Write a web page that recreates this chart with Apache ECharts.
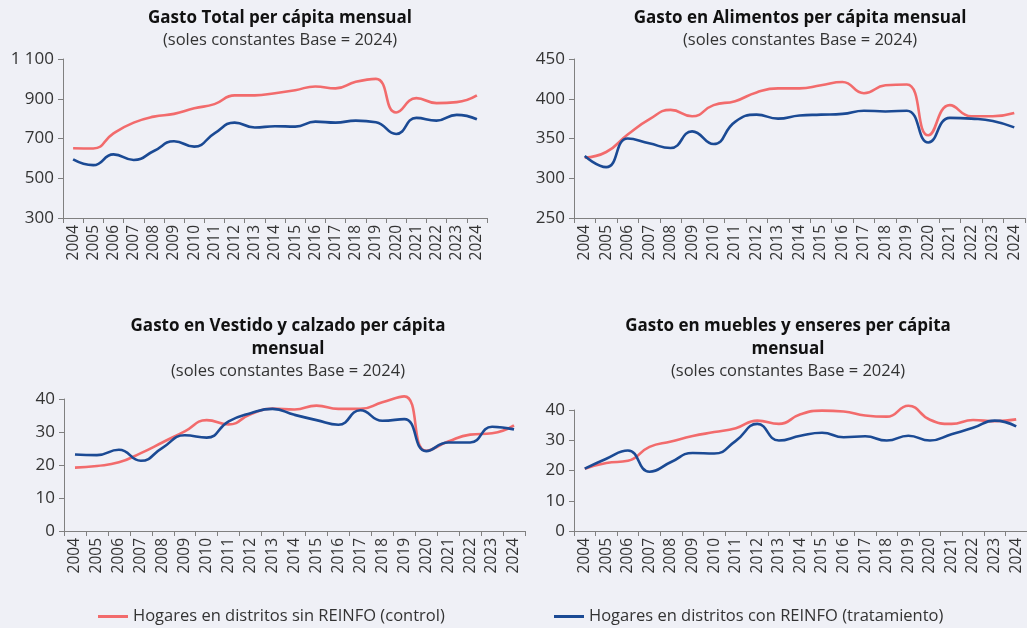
<!DOCTYPE html>
<html><head><meta charset="utf-8">
<script src="https://cdn.jsdelivr.net/npm/echarts@6/dist/echarts.min.js"></script>
<style>html,body{margin:0;padding:0;background:#eff0f6;}#c{width:1027px;height:628px;}</style>
</head><body><div id="c"></div>
<script>
const years = ['2004','2005','2006','2007','2008','2009','2010','2011','2012','2013','2014','2015','2016','2017','2018','2019','2020','2021','2022','2023','2024'];
const nameControl = 'Hogares en distritos sin REINFO (control)';
const nameTreat = 'Hogares en distritos con REINFO (tratamiento)';

const totalControl = [651,650,726,780,810,824,852,873,917,917,928,943,962,952,985,1000,831,903,878,883,917];
const totalTreat   = [595,566,620,592,637,686,659,726,780,755,762,760,785,780,790,782,723,804,790,819,797];

const alimControl = [326,333,355,374,386,378,392,397,408,413,413,417,421,407,417,418,354,392,378,378,382];
const alimTreat   = [328,314,350,344,338,359,343,371,380,375,379,380,381,385,384,385,345,376,375,372,364];

const vestControl = [19.2,19.7,20.8,23.6,26.9,30.2,33.6,32.3,35.4,37.1,36.8,38.0,37.0,37.0,39.0,40.8,24.3,27.1,29.2,29.6,32.0];
const vestTreat   = [23.2,23.0,24.6,21.3,25.3,29.0,28.3,33.2,35.7,37.0,35.2,33.6,32.2,36.6,33.4,33.9,24.2,26.8,26.8,31.6,30.8];

const muebControl = [20.6,22.5,23.2,27.8,29.6,31.4,32.7,34.0,36.5,35.4,38.6,39.8,39.5,38.2,37.8,41.4,36.8,35.4,36.7,36.3,36.9];
const muebTreat   = [20.6,23.9,26.6,19.6,22.8,25.8,25.6,29.8,35.4,29.9,31.5,32.5,31.0,31.3,29.9,31.5,29.9,32.0,34.1,36.5,34.6];

const titles = [
  {lines:['Gasto Total per cápita mensual'], x:280, y:18},
  {lines:['Gasto en Alimentos per cápita mensual'], x:800, y:18},
  {lines:['Gasto en Vestido y calzado per cápita','mensual'], x:288, y:326},
  {lines:['Gasto en muebles y enseres per cápita','mensual'], x:788, y:326}
];
const subtitle = '(soles constantes Base = 2024)';

const RED = '#f26b6c', BLUE = '#1b4a94';
const FONT = '"Open Sans", sans-serif';
const txt = '#333333';
const axisColor = '#808080';

const grids = [
  {left:63, top:59, width:424, height:159},
  {left:574, top:59, width:451, height:159},
  {left:64, top:399, width:461, height:132},
  {left:574, top:410, width:461, height:121}
];
const yCfg = [
  {min:300, max:1100, interval:200},
  {min:250, max:450, interval:50},
  {min:0, max:40, interval:10},
  {min:0, max:40, interval:10}
];
const dataSets = [
  [totalControl,totalTreat],[alimControl,alimTreat],[vestControl,vestTreat],[muebControl,muebTreat]
];

const graphic = [];
titles.forEach(t=>{
  t.lines.forEach((ln,i)=>{
    graphic.push({type:'text', x:t.x, y:t.y+i*23, style:{text:ln, font:'bold 17px '+FONT, fill:'#111', textAlign:'center', textVerticalAlign:'middle'}});
  });
  graphic.push({type:'text', x:t.x, y:t.y+t.lines.length*22.5, style:{text:subtitle, font:'16.5px '+FONT, fill:txt, textAlign:'center', textVerticalAlign:'middle'}});
});

const xAxis = grids.map((g,i)=>({
  type:'category', gridIndex:i, data:years, boundaryGap:true,
  axisLine:{lineStyle:{color:axisColor, width:1}},
  axisTick:{show:true, interval:0, length:5, lineStyle:{color:axisColor}},
  axisLabel:{interval:0, rotate:90, fontSize:15.5, color:txt, fontFamily:FONT, margin:7}
}));
const yAxis = grids.map((g,i)=>({
  type:'value', gridIndex:i, min:yCfg[i].min, max:yCfg[i].max, interval:yCfg[i].interval,
  splitLine:{show:false},
  axisLine:{show:true, lineStyle:{color:axisColor, width:1}},
  axisTick:{show:true, length:5, lineStyle:{color:axisColor}},
  axisLabel:{fontSize:17, color:txt, fontFamily:FONT, margin:9,
    formatter:v=> v>=1000 ? String(v).replace(/(\d)(\d{3})$/,'$1 $2') : String(v)}
}));
const series = [];
dataSets.forEach((ds,i)=>{
  series.push({name:nameControl, type:'line', xAxisIndex:i, yAxisIndex:i, data:ds[0], smooth:0.5, clip:false, symbol:'none', lineStyle:{color:RED, width:2.6}, itemStyle:{color:RED}, z:2});
  series.push({name:nameTreat, type:'line', xAxisIndex:i, yAxisIndex:i, data:ds[1], smooth:0.5, clip:false, symbol:'none', lineStyle:{color:BLUE, width:2.6}, itemStyle:{color:BLUE}, z:3});
});

const chart = echarts.init(document.getElementById('c'), null, {renderer:'canvas'});
chart.setOption({
  backgroundColor:'#eff0f6',
  animation:false,
  grid:grids,
  xAxis:xAxis,
  yAxis:yAxis,
  series:series,
  graphic:graphic,
  legend:[
    {data:[{name:nameControl, icon:'rect'}], left:93, top:603, itemWidth:30, itemHeight:3, itemGap:7, textStyle:{fontSize:16.5, color:txt, fontFamily:FONT}},
    {data:[{name:nameTreat, icon:'rect'}], left:549, top:603, itemWidth:30, itemHeight:3, itemGap:7, textStyle:{fontSize:16.5, color:txt, fontFamily:FONT}}
  ]
});
</script></body></html>
